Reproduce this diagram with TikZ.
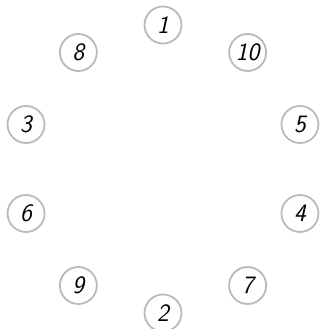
\documentclass[tikz,border=0pt]{standalone}
\usepackage{tikz}

\begin{document}
\begin{tikzpicture}[x=1pt, y=1pt,
  numnode/.style={circle, draw=black!27, line width=1.8pt, minimum size=37pt, inner sep=0pt, font=\fontsize{25}{25}\selectfont\sffamily\itshape}
]
  \useasboundingbox (-163,-160) rectangle (157,169);
  % ring of numbered circles, clockwise from the top
  \foreach \lbl [count=\i from 0] in {1,10,5,4,7,2,9,6,3,8}
    \node[numnode] (n\lbl) at ({90-36*\i}:144) {\lbl};
\end{tikzpicture}
\end{document}
